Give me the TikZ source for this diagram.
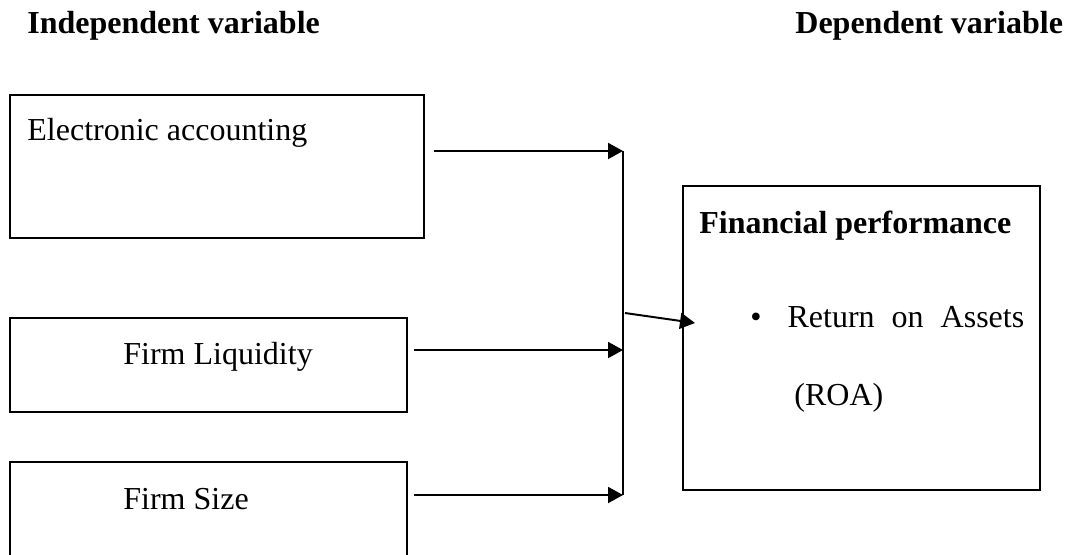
\documentclass[tikz,border=0pt]{standalone}
\usepackage{fontspec}
\setmainfont{Liberation Serif}
\usetikzlibrary{arrows.meta}

\begin{document}
\begin{tikzpicture}[x=0.5pt,y=-0.5pt,line cap=butt,line join=miter,
  varbox/.style={draw=black,line width=1pt,inner sep=0pt},
  lbl/.style={anchor=base west,inner sep=0pt,font=\fontsize{16}{19}\selectfont},
  hdr/.style={lbl,font=\fontsize{16}{19}\selectfont\bfseries},
  arr/.style={line width=1pt,-{Triangle[length=7.5pt,width=8pt]}}]

\clip (0,0) rectangle (1068,554);

\node[hdr] (indep) at (27,33) {Independent variable};
\node[hdr] (dep) at (795,33) {Dependent variable};

\node[varbox,minimum width=207pt,minimum height=71.5pt] (ea) at (217,166.5) {};
\node[varbox,minimum width=198.5pt,minimum height=47pt] (fl) at (208.5,365) {};
\node[varbox,minimum width=198.5pt,minimum height=79pt] (fs) at (208.5,541) {};
\node[varbox,minimum width=178.5pt,minimum height=152pt] (fp) at (861.5,338) {};

\node[lbl] (eatxt) at (27,140) {Electronic accounting};
\node[lbl] (fltxt) at (123,364) {Firm Liquidity};
\node[lbl] (fstxt) at (123,509) {Firm Size};
\node[hdr] (fptxt) at (699,233) {Financial performance};
\node[lbl] (roa) at (750,327) {\textbullet\hspace{13pt}Return \hspace{4.5pt}on \hspace{4.5pt}Assets};
\node[lbl] (roab) at (794,405) {(ROA)};

\coordinate (j1) at (623,151);
\coordinate (j2) at (623,350);
\coordinate (j3) at (623,495);
\coordinate (jm) at (625,313);
\coordinate (tp) at (695,323);

\draw[arr,shorten <=4.5pt] (ea.east |- j1) -- (j1);
\draw[arr,shorten <=3pt] (fl.east |- j2) -- (j2);
\draw[arr,shorten <=3pt] (fs.east |- j3) -- (j3);
\draw[line width=0.7pt] (j1) -- (j3);
\draw[arr] (jm) -- (tp);

\end{tikzpicture}
\end{document}
